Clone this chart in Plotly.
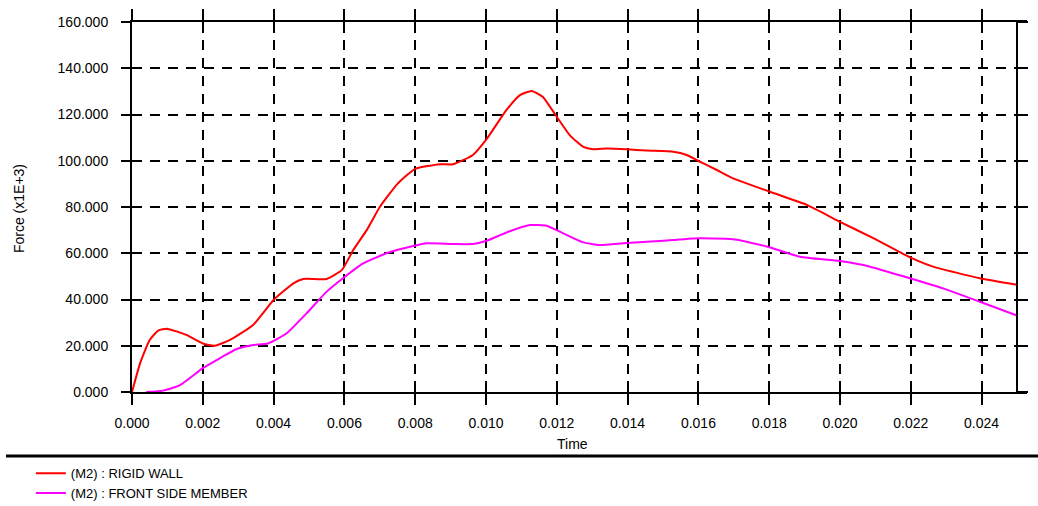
import plotly.graph_objects as go

# Contact force histories (time in s, force in kN x1E+3 scale)
wall_time = [0.0, 0.00023, 0.0005, 0.00075, 0.00098, 0.0013, 0.00155, 0.002, 0.00234,
             0.00277, 0.00342, 0.004, 0.00456, 0.00484, 0.0055, 0.00593, 0.00625, 0.00663,
             0.007, 0.0075, 0.008, 0.0087, 0.00907, 0.00963, 0.0100, 0.01058, 0.01096,
             0.01129, 0.0116, 0.012, 0.01237, 0.01275, 0.01303, 0.01341, 0.01397, 0.01454,
             0.01529, 0.01567, 0.01599, 0.01652, 0.01698, 0.01802, 0.01906, 0.0200,
             0.02094, 0.02198, 0.02263, 0.02395, 0.025]
wall_force = [0.0, 12.5, 22.5, 26.6, 27.4, 26.0, 24.6, 21.0, 20.0,
              22.5, 29.0, 39.8, 47.0, 48.9, 48.9, 52.8, 61.4, 70.0,
              80.0, 90.0, 96.5, 98.5, 98.5, 102.5, 109.0, 122.0, 128.4,
              130.2, 127.7, 119.0, 111.0, 106.0, 105.0, 105.3, 105.0, 104.4,
              103.9, 102.5, 100.0, 96.0, 92.4, 86.6, 80.9, 73.6,
              66.5, 58.2, 54.2, 49.2, 46.4]

member_time = [0.0004, 0.00088, 0.00136, 0.002, 0.00249, 0.00296, 0.00342, 0.00384,
               0.00437, 0.00493, 0.0055, 0.00596, 0.00653, 0.00719, 0.00794, 0.00832,
               0.00907, 0.00963, 0.01002, 0.01058, 0.01124, 0.01171, 0.01218, 0.01275,
               0.01322, 0.01387, 0.01454, 0.01529, 0.01585, 0.01698, 0.01793, 0.01887,
               0.0200, 0.02085, 0.02188, 0.02291, 0.02395, 0.025]
member_force = [0.0, 0.6, 3.0, 10.3, 14.7, 18.6, 20.3, 21.0,
                25.4, 34.0, 43.4, 49.2, 55.6, 60.0, 63.1, 64.3,
                64.0, 64.0, 65.4, 69.0, 72.2, 71.9, 68.6, 64.7,
                63.6, 64.3, 65.0, 65.7, 66.4, 66.1, 62.9, 58.5,
                56.6, 54.2, 49.6, 44.8, 39.0, 33.1]

series_names = ["(M2) : RIGID WALL", "(M2) : FRONT SIDE MEMBER"]
series_colors = ["#ff0000", "#ff00ff"]

FONT = "Liberation Sans, Arial, sans-serif"
T_END = 0.025
X_MAX = 0.0252825

fig = go.Figure()
for t, f, name, col in [(wall_time, wall_force, series_names[0], series_colors[0]),
                        (member_time, member_force, series_names[1], series_colors[1])]:
    fig.add_trace(go.Scatter(x=t, y=f, mode="lines", name=name,
                             line=dict(color=col, width=2, shape="spline", smoothing=0.5)))

axis_common = dict(showline=True, linecolor="black", linewidth=2,
                   tickcolor="black", tickwidth=2, zeroline=False,
                   tickfont=dict(family=FONT, size=14, color="black"))

fig.update_layout(
    width=1038, height=506,
    margin=dict(l=132, r=11, t=22, b=114, autoexpand=False),
    plot_bgcolor="white", paper_bgcolor="white",
    xaxis=dict(range=[0, X_MAX], dtick=0.002, tick0=0, tickformat=".3f",
               ticks="outside", ticklen=11, mirror="allticks",
               showgrid=True, gridcolor="black", gridwidth=2, griddash="10px,8px",
               ticklabelstandoff=6, **axis_common),
    yaxis=dict(range=[0, 160], dtick=20, tick0=0, tickformat=".3f",
               ticks="outside", ticklen=9,
               showgrid=True, gridcolor="black", gridwidth=2, griddash="10px,8px",
               ticklabelstandoff=10, **axis_common),
    # inner halves of the crossing tick marks
    xaxis2=dict(overlaying="x", anchor="y", range=[0, X_MAX], dtick=0.002, tick0=0,
                ticks="inside", ticklen=11, tickwidth=2, tickcolor="black",
                mirror="ticks", showline=False, showticklabels=False,
                showgrid=False, zeroline=False),
    yaxis2=dict(overlaying="y", anchor="x", range=[0, 160], dtick=20, tick0=0,
                ticks="inside", ticklen=9, tickwidth=2, tickcolor="black",
                showline=False, showticklabels=False, showgrid=False, zeroline=False),
    # closing border at the end time
    yaxis3=dict(overlaying="y", anchor="free", side="right",
                position=T_END / X_MAX, range=[0, 160], dtick=20, tick0=0,
                ticks="outside", ticklen=10, tickwidth=2, tickcolor="black",
                showline=True, linecolor="black", linewidth=2,
                showticklabels=False, showgrid=False, zeroline=False),
    legend=dict(x=-0.113, y=-0.179, xanchor="left", yanchor="top",
                font=dict(family=FONT, size=13, color="black"),
                bgcolor="rgba(0,0,0,0)", tracegroupgap=0),
    showlegend=True,
)

# dummy traces so the overlay axes are rendered
fig.add_trace(go.Scatter(x=[None], y=[None], xaxis="x2", yaxis="y2",
                         showlegend=False, hoverinfo="skip"))
fig.add_trace(go.Scatter(x=[None], y=[None], xaxis="x", yaxis="y3",
                         showlegend=False, hoverinfo="skip"))

fig.add_annotation(text="Time", x=0.4927, y=-0.1405, xref="paper", yref="paper",
                   showarrow=False, xanchor="center", yanchor="middle",
                   font=dict(family=FONT, size=14, color="black"))
fig.add_annotation(text="Force (x1E+3)", x=-0.1263, y=0.497, xref="paper", yref="paper",
                   showarrow=False, textangle=-90, xanchor="center", yanchor="middle",
                   font=dict(family=FONT, size=14, color="black"))

# separator above the legend
fig.add_shape(type="line", xref="paper", yref="paper",
              x0=-0.1408, x1=1.0123, y0=-0.173, y1=-0.173,
              line=dict(color="black", width=3))

fig.write_html("out.html")
